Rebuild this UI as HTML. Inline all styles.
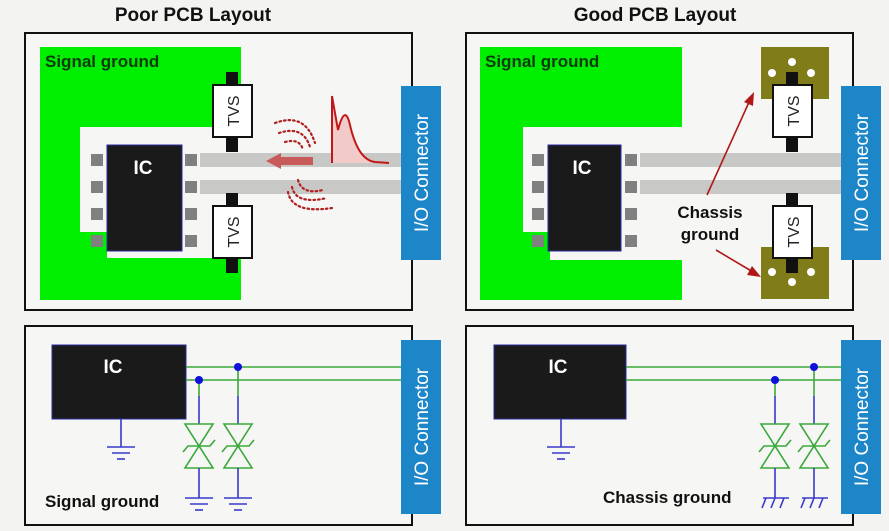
<!DOCTYPE html>
<html><head><meta charset="utf-8"><style>
html,body{margin:0;padding:0;background:#f3f3f1;}
svg{display:block;font-family:"Liberation Sans",sans-serif;}
</style></head><body>
<svg width="889" height="531" viewBox="0 0 889 531" xmlns="http://www.w3.org/2000/svg">
<defs>
<g id="tvs">
  <rect x="-6" y="-13" width="12" height="80" fill="#111"/>
  <rect x="-19" y="0" width="39" height="52" fill="#fff" stroke="#111" stroke-width="2"/>
  <text transform="translate(7,26) rotate(-90)" text-anchor="middle" font-size="16" fill="#222">TVS</text>
</g>
<g id="diode" fill="none" stroke-width="1.6">
  <line x1="0" y1="-50" x2="0" y2="-22" stroke="#3a3acc"/>
  <path d="M-14,-22 L14,-22 L0,0 Z M-14,22 L14,22 L0,0 Z M-16,6 L-11,0 L11,0 L16,-6" stroke="#3aa83a"/>
  <line x1="0" y1="22" x2="0" y2="52" stroke="#3a3acc"/>
</g>
<g id="gnd" stroke="#3a3acc" stroke-width="1.6">
  <line x1="-14" y1="0" x2="14" y2="0"/><line x1="-9" y1="6" x2="9" y2="6"/><line x1="-4" y1="12" x2="4" y2="12"/>
</g>
<g id="cgnd" stroke="#3a3acc" stroke-width="1.6">
  <line x1="-12" y1="0" x2="14" y2="0"/><line x1="-9" y1="0" x2="-13" y2="10"/><line x1="0" y1="0" x2="-4" y2="10"/><line x1="9" y1="0" x2="5" y2="10"/>
</g>
<g id="pins" fill="#808080">
  <rect x="0" y="0" width="12" height="12"/><rect x="0" y="27" width="12" height="12"/><rect x="0" y="54" width="12" height="12"/><rect x="0" y="81" width="12" height="12"/>
</g>
<g id="conn">
  <rect x="0" y="0" width="40" height="174" fill="#1c86c9"/>
  <text transform="translate(27,87) rotate(-90)" text-anchor="middle" font-size="19" fill="#fff">I/O Connector</text>
</g>
</defs>

<!-- LEFT TOP -->
<text x="193" y="21" text-anchor="middle" font-size="19" font-weight="bold" fill="#111">Poor PCB Layout</text>
<rect x="25" y="33" width="387" height="277" fill="#f6f6f4" stroke="#111" stroke-width="2"/>
<path d="M40,47 H241 V300 H40 Z" fill="#00ee00"/>
<path d="M80,127 H241 V232 H215 V258 H107 V232 H80 Z" fill="#f6f6f4"/>
<text x="45" y="67" font-size="17" font-weight="bold" fill="#0b3a0b">Signal ground</text>
<rect x="200" y="153" width="202" height="14" fill="#c8c8c6"/>
<rect x="200" y="180" width="202" height="14" fill="#c8c8c6"/>
<use href="#pins" x="91" y="154"/><use href="#pins" x="185" y="154"/>
<rect x="107" y="145" width="75" height="106" fill="#1a1a1a" stroke="#2a2aa0" stroke-width="1"/>
<text x="143" y="174" text-anchor="middle" font-size="19" font-weight="bold" fill="#fff">IC</text>
<use href="#tvs" x="232" y="85"/>
<use href="#tvs" x="232" y="206"/>
<use href="#conn" x="401" y="86"/>
<path d="M281,157 H313 V165 H281 V169 L266,161 L281,153 Z" fill="#c85a5a"/>
<path d="M332,163 L332,96 L338,130 Q345,103 350,125 Q358,160 375,162 L389,163 L332,163 Z" fill="#f2caca"/>
<path d="M332,163 L332,96 L338,130 Q345,103 350,125 Q358,160 375,162 L389,163" fill="none" stroke="#c01818" stroke-width="2"/>
<g fill="none" stroke="#b02020" stroke-width="2.2" stroke-dasharray="1.6 3" stroke-linecap="round">
  <path d="M275,123 Q305,112 315,143"/>
  <path d="M279,133 Q303,125 310,147"/>
  <path d="M285,142 Q300,138 303,150"/>
  <path d="M288,192 Q292,214 332,208"/>
  <path d="M292,187 Q296,205 327,198"/>
  <path d="M298,180 Q302,195 323,190"/>
</g>

<!-- LEFT BOTTOM -->
<rect x="25" y="326" width="387" height="199" fill="#f6f6f4" stroke="#111" stroke-width="2"/>
<rect x="52" y="345" width="134" height="74" fill="#1a1a1a" stroke="#2a2aa0" stroke-width="1"/>
<text x="113" y="373" text-anchor="middle" font-size="19" font-weight="bold" fill="#fff">IC</text>
<line x1="186" y1="367" x2="402" y2="367" stroke="#3aa83a" stroke-width="1.6"/>
<line x1="186" y1="380" x2="402" y2="380" stroke="#3aa83a" stroke-width="1.6"/>
<line x1="121" y1="419" x2="121" y2="447" stroke="#3a3acc" stroke-width="1.6"/><use href="#gnd" x="121" y="447"/>
<line x1="199" y1="380" x2="199" y2="396" stroke="#3aa83a" stroke-width="1.6"/>
<line x1="238" y1="367" x2="238" y2="396" stroke="#3aa83a" stroke-width="1.6"/>
<use href="#diode" x="199" y="446"/><use href="#diode" x="238" y="446"/>
<use href="#gnd" x="199" y="498"/><use href="#gnd" x="238" y="498"/>
<circle cx="199" cy="380" r="4" fill="#1010dd"/><circle cx="238" cy="367" r="4" fill="#1010dd"/>
<text x="45" y="507" font-size="17" font-weight="bold" fill="#111">Signal ground</text>
<use href="#conn" x="401" y="340"/>

<!-- RIGHT TOP -->
<text x="655" y="21" text-anchor="middle" font-size="19" font-weight="bold" fill="#111">Good PCB Layout</text>
<rect x="466" y="33" width="387" height="277" fill="#f6f6f4" stroke="#111" stroke-width="2"/>
<path d="M480,47 H682 V127 H523 V232 H550 V260 H682 V300 H480 Z" fill="#00ee00"/>
<text x="485" y="67" font-size="17" font-weight="bold" fill="#0b3a0b">Signal ground</text>
<rect x="640" y="153" width="202" height="14" fill="#c8c8c6"/>
<rect x="640" y="180" width="202" height="14" fill="#c8c8c6"/>
<use href="#pins" x="532" y="154"/><use href="#pins" x="625" y="154"/>
<rect x="548" y="145" width="73" height="106" fill="#1a1a1a" stroke="#2a2aa0" stroke-width="1"/>
<text x="582" y="174" text-anchor="middle" font-size="19" font-weight="bold" fill="#fff">IC</text>
<rect x="761" y="47" width="68" height="52" fill="#817c1a"/>
<rect x="761" y="247" width="68" height="52" fill="#817c1a"/>
<use href="#tvs" x="792" y="85"/>
<use href="#tvs" x="792" y="206"/>
<g fill="#fff"><circle cx="792" cy="62" r="4"/><circle cx="772" cy="73" r="4"/><circle cx="811" cy="73" r="4"/>
<circle cx="772" cy="272" r="4"/><circle cx="811" cy="272" r="4"/><circle cx="792" cy="282" r="4"/></g>
<use href="#conn" x="841" y="86"/>
<text x="710" y="218" text-anchor="middle" font-size="17" font-weight="bold" fill="#111">Chassis</text>
<text x="710" y="240" text-anchor="middle" font-size="17" font-weight="bold" fill="#111">ground</text>
<line x1="707" y1="195" x2="750" y2="100" stroke="#b01818" stroke-width="1.6"/>
<path d="M754,92 L753,106 L744,102 Z" fill="#b01818"/>
<line x1="716" y1="250" x2="753" y2="272" stroke="#b01818" stroke-width="1.6"/>
<path d="M761,277 L747,275 L752,266 Z" fill="#b01818"/>

<!-- RIGHT BOTTOM -->
<rect x="466" y="326" width="387" height="199" fill="#f6f6f4" stroke="#111" stroke-width="2"/>
<rect x="494" y="345" width="132" height="74" fill="#1a1a1a" stroke="#2a2aa0" stroke-width="1"/>
<text x="558" y="373" text-anchor="middle" font-size="19" font-weight="bold" fill="#fff">IC</text>
<line x1="626" y1="367" x2="842" y2="367" stroke="#3aa83a" stroke-width="1.6"/>
<line x1="626" y1="380" x2="842" y2="380" stroke="#3aa83a" stroke-width="1.6"/>
<line x1="561" y1="419" x2="561" y2="447" stroke="#3a3acc" stroke-width="1.6"/><use href="#gnd" x="561" y="447"/>
<line x1="775" y1="380" x2="775" y2="396" stroke="#3aa83a" stroke-width="1.6"/>
<line x1="814" y1="367" x2="814" y2="396" stroke="#3aa83a" stroke-width="1.6"/>
<use href="#diode" x="775" y="446"/><use href="#diode" x="814" y="446"/>
<use href="#cgnd" x="775" y="498"/><use href="#cgnd" x="814" y="498"/>
<circle cx="775" cy="380" r="4" fill="#1010dd"/><circle cx="814" cy="367" r="4" fill="#1010dd"/>
<text x="603" y="503" font-size="17" font-weight="bold" fill="#111">Chassis ground</text>
<use href="#conn" x="841" y="340"/>
</svg>
</body></html>
